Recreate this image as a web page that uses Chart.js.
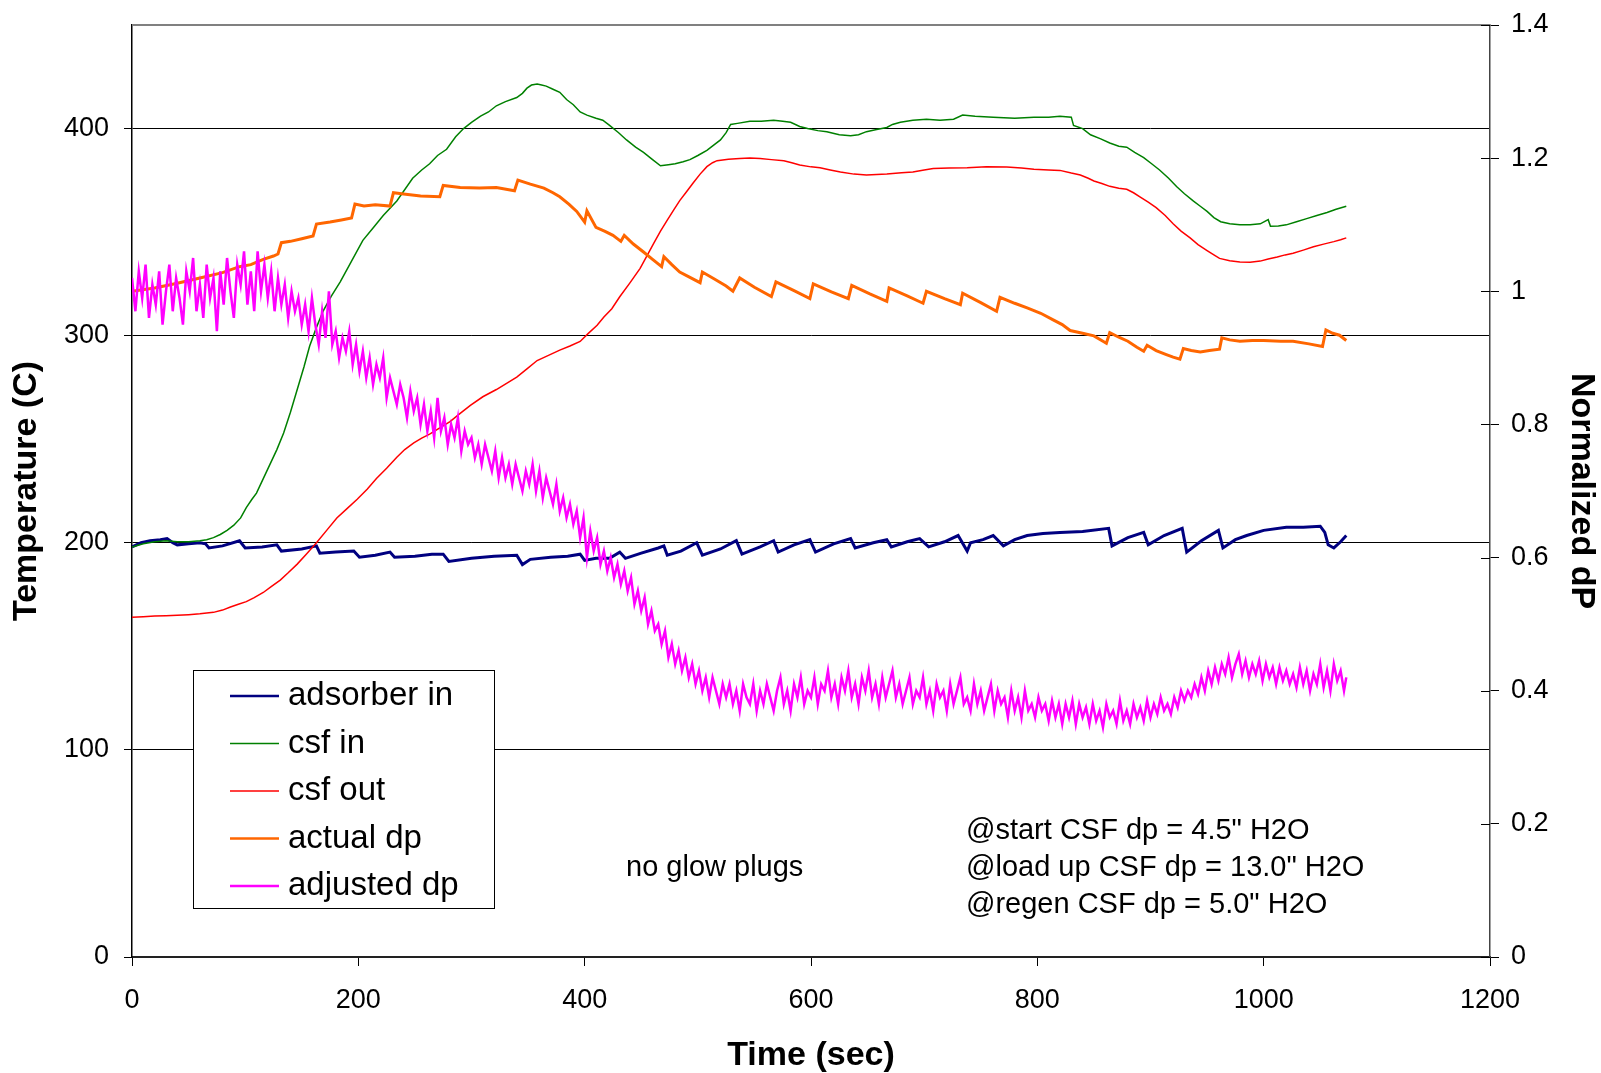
<!DOCTYPE html>
<html>
<head>
<meta charset="utf-8">
<script src="https://cdn.jsdelivr.net/npm/chart.js@4.4.1/dist/chart.umd.min.js"></script>
<style>
  html, body { margin: 0; padding: 0; background: #fff; }
  #quadro { width: 1601px; height: 1073px; }
</style>
</head>
<body>
<div id="quadro"><canvas id="grafico" width="1601" height="1073"></canvas></div>
<script>
// [time (sec), temperature (C)]
const adsorberIn = [[0,198],[8,200],[16,201],[25,201.5],[31,202],[36,200],[40,199],[50,199.5],[60,200],[65,199.5],[68,197.5],[80,198.5],[95,201],[100,197.5],[115,198],[128,199],[132,196],[150,197],[163,198.5],[166,195],[180,195.5],[196,196],[201,193],[215,194],[228,195.5],[232,193],[250,193.5],[265,194.5],[275,194.5],[280,191],[300,192.5],[320,193.5],[340,194],[345,189.5],[352,192],[370,193],[385,193.5],[396,194.5],[400,191.5],[410,192.5],[422,192.5],[431,195.5],[436,192.5],[450,195],[465,197.5],[470,198.5],[473,194],[485,196],[499,200],[504,194],[520,197],[534,201],[539,194.5],[555,198],[567,201],[571,195.5],[585,199],[599,201.5],[604,195.5],[620,199.5],[635,202],[639,197.5],[655,200],[667,201.5],[671,198],[685,200.5],[696,202],[704,198],[718,200.5],[730,203.5],[738,196],[741,200],[752,201.5],[761,203.5],[770,198.5],[780,201.5],[791,203.5],[805,204.5],[820,205],[840,205.5],[863,207],[866,198.5],[880,202.5],[894,205],[898,199],[912,203.5],[928,207],[932,195.5],[945,201],[960,206],[964,197.5],[975,201.5],[985,203.5],[1000,206],[1020,207.5],[1035,207.5],[1050,208],[1054,205],[1057,199],[1062,197.5],[1068,200.5],[1073,203.5]];

const csfIn = [[0,198],[10,199.5],[20,200.5],[30,201],[40,200.5],[50,200.5],[60,201],[66,201.5],[72,202.5],[78,204],[84,206],[90,208.5],[96,212],[101,217],[106,221],[110,224],[116,231],[122,238],[128,245],[134,253],[140,263],[146,274],[152,285],[157,295],[163,304],[169,312],[176,319],[184,326],[194,336],[204,346],[213,352],[222,358],[234,365],[248,376],[256,380],[263,383],[270,387],[278,390],[286,396],[293,400],[300,403],[308,406],[315,408],[322,411],[330,413],[340,415],[345,417],[349,419.5],[353,421],[358,421.5],[362,421],[366,420.5],[372,419],[378,417.5],[384,414],[390,411.5],[396,408],[402,406.5],[410,405],[416,404],[422,401.5],[430,398],[437,394.5],[445,391],[452,388.5],[460,385],[467,382],[474,382.5],[480,383],[487,384],[493,385],[500,387],[508,389.5],[514,392],[520,394.5],[525,398],[529,402],[535,402.5],[546,403.5],[556,403.5],[567,404],[575,403.5],[582,403],[590,401],[597,400],[606,399],[614,398.5],[625,397],[635,396.5],[642,397],[649,398.5],[658,399.5],[667,400.5],[672,402],[679,403],[690,404],[702,404.5],[714,404],[726,404.5],[734,406.5],[745,406],[761,405.5],[780,405],[797,405.5],[810,405.5],[820,406],[830,405.5],[832,401.5],[840,400],[847,397],[856,395],[864,393],[872,391.5],[879,391],[886,388.5],[894,386],[901,383],[908,380],[916,376],[923,372],[930,368.5],[938,365],[944,362.5],[950,360],[956,357],[962,355],[970,354],[979,353.5],[988,353.5],[997,354],[1004,356],[1006,352.8],[1013,353],[1020,353.5],[1029,355],[1038,356.5],[1047,358],[1056,359.5],[1064,361],[1073,362.5]];

const csfOut = [[0,164],[10,164.3],[20,164.6],[30,164.8],[40,165],[50,165.3],[60,165.7],[72,166.4],[80,167.5],[87,169],[94,170.3],[101,171.6],[108,173.5],[116,176],[123,178.8],[131,182],[138,185.5],[146,189.7],[154,194.5],[163,200],[172,206],[181,212],[190,216.5],[199,221],[208,226],[216,231],[225,236],[234,241.3],[241,245],[249,248.2],[256,250.5],[263,252.5],[272,255.5],[281,258.5],[290,262.5],[299,266.3],[310,270.5],[322,274],[331,277],[340,280],[349,284],[358,288],[368,290.5],[378,293],[387,295],[396,297.2],[403,301],[411,305],[417,309],[424,313],[431,318.8],[440,325.5],[449,332.5],[455,338.5],[461,344.6],[467,350.5],[473,355.8],[479,361],[484,365.2],[490,369.5],[496,373.8],[502,378],[508,381.6],[513,383.5],[517,384.5],[527,385.2],[537,385.5],[546,385.8],[555,385.5],[565,385],[576,384.5],[583,383.5],[590,382.4],[600,381.5],[608,381.1],[617,380],[626,379],[638,378],[649,377.6],[658,377.8],[667,378.1],[680,378.7],[690,379],[700,380],[708,380.7],[722,381],[738,381.1],[755,381.5],[773,381.4],[786,381],[797,380.4],[810,380],[820,379.8],[830,378.5],[838,377.6],[845,376],[850,374.7],[857,373.5],[864,372.1],[872,371.2],[879,370.7],[885,369],[891,366.9],[898,364.5],[905,361.8],[913,358],[920,354],[927,350.5],[935,347.2],[942,344],[950,341.1],[956,339],[961,337.3],[970,336.2],[979,335.6],[988,335.5],[997,336],[1004,337],[1012,338],[1019,339],[1026,339.8],[1035,341.3],[1044,342.9],[1053,344.2],[1062,345.4],[1068,346.3],[1073,347.2]];

// [time (sec), normalized dP]
const actualDp = [[0,1.0],[20,1.005],[40,1.012],[60,1.02],[80,1.028],[95,1.037],[105,1.04],[116,1.048],[125,1.053],[129,1.056],[132,1.073],[140,1.075],[150,1.079],[160,1.083],[163,1.101],[175,1.104],[185,1.107],[194,1.11],[197,1.131],[205,1.128],[215,1.13],[228,1.128],[231,1.148],[240,1.146],[255,1.143],[272,1.142],[275,1.159],[290,1.156],[307,1.155],[322,1.156],[338,1.151],[341,1.167],[352,1.161],[364,1.155],[372,1.148],[378,1.142],[386,1.131],[393,1.12],[400,1.104],[402,1.121],[410,1.096],[418,1.09],[425,1.084],[432,1.075],[435,1.084],[443,1.071],[452,1.059],[460,1.048],[468,1.037],[470,1.052],[477,1.04],[484,1.029],[493,1.021],[502,1.013],[504,1.029],[515,1.018],[525,1.008],[531,1.0],[537,1.02],[550,1.006],[565,0.992],[569,1.014],[585,1.001],[599,0.989],[602,1.011],[618,0.999],[633,0.989],[636,1.009],[652,0.996],[667,0.985],[669,1.005],[685,0.993],[699,0.982],[702,1.0],[718,0.989],[732,0.98],[734,0.997],[750,0.983],[764,0.97],[767,0.991],[780,0.982],[791,0.975],[803,0.967],[814,0.957],[822,0.95],[829,0.941],[840,0.937],[850,0.933],[858,0.925],[861,0.922],[864,0.938],[872,0.931],[880,0.925],[888,0.916],[894,0.91],[897,0.919],[905,0.911],[914,0.905],[920,0.901],[926,0.898],[929,0.914],[936,0.911],[944,0.909],[952,0.911],[961,0.913],[963,0.93],[970,0.927],[979,0.925],[990,0.926],[1000,0.926],[1015,0.925],[1026,0.925],[1040,0.921],[1052,0.917],[1055,0.942],[1061,0.937],[1067,0.934],[1073,0.926]];

const adjustedDp = [[0,1.02],[3,0.97],[6,1.03],[9,0.99],[12,1.04],[15,0.96],[18,1.01],[21,0.98],[24,1.03],[27,0.95],[30,1.0],[33,1.04],[36,0.97],[39,1.02],[42,0.99],[45,0.95],[48,1.03],[51,1.0],[54,1.05],[57,0.97],[60,1.01],[63,0.96],[66,1.04],[69,0.99],[72,1.02],[75,0.94],[78,1.03],[81,0.98],[84,1.05],[87,1.0],[90,0.96],[93,1.04],[96,1.01],[99,1.06],[102,0.98],[105,1.03],[108,0.97],[111,1.06],[114,1.0],[117,1.04],[120,0.99],[123,1.03],[126,0.97],[129,1.02],[132,0.98],[135,1.01],[138,0.96],[141,1.0],[144,0.97],[147,0.99],[150,0.95],[153,0.98],[156,0.94],[159,0.99],[162,0.95],[165,0.92],[168,0.97],[171,0.93],[174,1.0],[177,0.92],[180,0.94],[183,0.9],[186,0.93],[189,0.91],[192,0.94],[195,0.89],[198,0.92],[201,0.88],[204,0.91],[207,0.87],[210,0.9],[213,0.86],[216,0.89],[219,0.87],[222,0.9],[225,0.84],[228,0.87],[231,0.85],[234,0.83],[237,0.86],[240,0.84],[243,0.81],[246,0.85],[249,0.82],[252,0.84],[255,0.8],[258,0.83],[261,0.79],[264,0.82],[267,0.78],[270,0.84],[273,0.79],[276,0.81],[279,0.77],[282,0.8],[285,0.78],[288,0.81],[291,0.76],[294,0.79],[297,0.77],[300,0.78],[303,0.75],[306,0.77],[309,0.74],[312,0.77],[315,0.75],[318,0.73],[321,0.76],[324,0.72],[327,0.75],[330,0.72],[333,0.74],[336,0.71],[339,0.74],[342,0.72],[345,0.7],[348,0.73],[351,0.71],[354,0.74],[357,0.7],[360,0.73],[363,0.69],[366,0.72],[369,0.7],[372,0.68],[375,0.71],[378,0.67],[381,0.69],[384,0.66],[387,0.68],[390,0.65],[393,0.67],[396,0.63],[399,0.66],[402,0.6],[405,0.64],[408,0.61],[411,0.63],[414,0.59],[417,0.61],[420,0.58],[423,0.6],[426,0.57],[429,0.59],[432,0.56],[435,0.58],[438,0.55],[441,0.57],[444,0.53],[447,0.55],[450,0.52],[453,0.54],[456,0.5],[459,0.52],[462,0.49],[465,0.5],[468,0.47],[471,0.49],[474,0.45],[477,0.47],[480,0.44],[483,0.46],[486,0.43],[489,0.45],[492,0.42],[495,0.44],[498,0.41],[501,0.43],[504,0.4],[507,0.42],[510,0.39],[513,0.42],[516,0.4],[519,0.38],[522,0.41],[525,0.39],[528,0.41],[531,0.38],[534,0.4],[537,0.37],[540,0.41],[543,0.39],[546,0.38],[549,0.41],[552,0.37],[555,0.4],[558,0.38],[561,0.41],[564,0.39],[567,0.37],[570,0.4],[573,0.42],[576,0.38],[579,0.4],[582,0.37],[585,0.41],[588,0.39],[591,0.42],[594,0.38],[597,0.4],[600,0.39],[603,0.42],[606,0.38],[609,0.41],[612,0.4],[615,0.43],[618,0.39],[621,0.41],[624,0.38],[627,0.42],[630,0.4],[633,0.43],[636,0.39],[639,0.41],[642,0.38],[645,0.42],[648,0.4],[651,0.43],[654,0.39],[657,0.41],[660,0.38],[663,0.42],[666,0.39],[669,0.41],[672,0.43],[675,0.39],[678,0.41],[681,0.38],[684,0.4],[687,0.42],[690,0.38],[693,0.4],[696,0.39],[699,0.42],[702,0.38],[705,0.4],[708,0.37],[711,0.41],[714,0.39],[717,0.4],[720,0.37],[723,0.41],[726,0.38],[729,0.4],[732,0.42],[735,0.38],[738,0.39],[741,0.37],[744,0.41],[747,0.38],[750,0.4],[753,0.37],[756,0.39],[759,0.41],[762,0.37],[765,0.4],[768,0.38],[771,0.39],[774,0.36],[777,0.4],[780,0.37],[783,0.39],[786,0.36],[789,0.4],[792,0.37],[795,0.38],[798,0.36],[801,0.39],[804,0.37],[807,0.38],[810,0.355],[813,0.385],[816,0.36],[819,0.38],[822,0.35],[825,0.38],[828,0.36],[831,0.385],[834,0.35],[837,0.38],[840,0.36],[843,0.375],[846,0.35],[849,0.38],[852,0.355],[855,0.37],[858,0.345],[861,0.38],[864,0.36],[867,0.37],[870,0.35],[873,0.385],[876,0.355],[879,0.37],[882,0.35],[885,0.38],[888,0.36],[891,0.375],[894,0.355],[897,0.385],[900,0.36],[903,0.38],[906,0.365],[909,0.39],[912,0.37],[915,0.38],[918,0.365],[921,0.39],[924,0.375],[927,0.4],[930,0.385],[933,0.4],[936,0.39],[939,0.41],[942,0.395],[945,0.42],[948,0.4],[951,0.43],[954,0.41],[957,0.435],[960,0.415],[963,0.44],[966,0.425],[969,0.45],[972,0.42],[975,0.44],[978,0.455],[981,0.425],[984,0.445],[987,0.42],[990,0.44],[993,0.425],[996,0.445],[999,0.415],[1002,0.44],[1005,0.42],[1008,0.435],[1011,0.41],[1014,0.435],[1017,0.415],[1020,0.43],[1023,0.41],[1026,0.425],[1029,0.405],[1032,0.435],[1035,0.41],[1038,0.43],[1041,0.4],[1044,0.425],[1047,0.41],[1050,0.44],[1053,0.405],[1056,0.43],[1059,0.4],[1062,0.44],[1065,0.415],[1068,0.43],[1071,0.4],[1073,0.42]];

const seriesNames = ['adsorber in', 'csf in', 'csf out', 'actual dp', 'adjusted dp'];
const timeTicks = [0, 200, 400, 600, 800, 1000, 1200];
const tempTicks = [0, 100, 200, 300, 400];
const dpTicks = [0, 0.2, 0.4, 0.6, 0.8, 1, 1.2, 1.4];
const noteCenter = 'no glow plugs';
const noteLines = ['@start CSF dp = 4.5" H2O', '@load up CSF dp = 13.0" H2O', '@regen CSF dp = 5.0" H2O'];

const cores = ['#000080', '#008000', '#FF0000', '#FF6600', '#FF00FF'];
const espessuras = [3, 1.5, 1.5, 3, 2.5];
const fonte = "'Liberation Sans', Arial, sans-serif";

Chart.defaults.font.family = fonte;
Chart.defaults.color = '#000';

function pontos(lista) {
    return lista.map(p => ({ x: p[0], y: p[1] }));
}

function fixarTicks(valores) {
    return function (scale) {
        scale.ticks = valores.map(v => ({ value: v }));
    };
}

// fixed box sizes, no extra label padding around the plot
function caixa(largura, altura) {
    return function (s) {
        if (largura) s.width = largura;
        if (altura) s.height = altura;
        s.paddingTop = 0;
        s.paddingBottom = 0;
    };
}

const extras = {
    id: 'extras',
    afterDraw(chart) {
        const ctx = chart.ctx;
        const area = chart.chartArea;
        const yP = chart.scales.yP;
        ctx.save();

        // top border of the plot area
        ctx.strokeStyle = '#808080';
        ctx.lineWidth = 2;
        ctx.beginPath();
        ctx.moveTo(area.left, area.top);
        ctx.lineTo(area.right, area.top);
        ctx.stroke();

        // secondary axis ticks cross into the plot
        ctx.strokeStyle = '#000';
        ctx.lineWidth = 1;
        dpTicks.forEach(v => {
            const py = Math.round(yP.getPixelForValue(v)) + 0.5;
            ctx.beginPath();
            ctx.moveTo(area.right - 9, py);
            ctx.lineTo(area.right, py);
            ctx.stroke();
        });

        // legend box
        const bx = area.left + 61, by = area.top + 645, bw = 301, bh = 238;
        ctx.fillStyle = '#fff';
        ctx.fillRect(bx, by, bw, bh);
        ctx.strokeStyle = '#000';
        ctx.lineWidth = 1;
        ctx.strokeRect(bx + 0.5, by + 0.5, bw, bh);
        ctx.font = '33px ' + fonte;
        ctx.textBaseline = 'middle';
        ctx.textAlign = 'left';
        chart.data.datasets.forEach((ds, i) => {
            const ly = by + 26 + i * 47.5;
            ctx.strokeStyle = ds.borderColor;
            ctx.lineWidth = i === 1 || i === 2 ? 1.5 : 2.5;
            ctx.beginPath();
            ctx.moveTo(bx + 37, ly);
            ctx.lineTo(bx + 86, ly);
            ctx.stroke();
            ctx.fillStyle = '#000';
            ctx.fillText(ds.label, bx + 95, ly);
        });

        // notes
        ctx.font = '29px ' + fonte;
        ctx.fillStyle = '#000';
        ctx.fillText(noteCenter, area.left + 494, area.top + 843);
        noteLines.forEach((t, i) => {
            ctx.fillText(t, area.left + 834, area.top + 806 + i * 37);
        });
        ctx.restore();
    }
};

const series = [adsorberIn, csfIn, csfOut, actualDp, adjustedDp];
const eixos = ['yT', 'yT', 'yT', 'yP', 'yP'];

const ctx = document.getElementById('grafico').getContext('2d');
const grafico = new Chart(ctx, {
    type: 'line',
    data: {
        datasets: series.map((s, i) => ({
            label: seriesNames[i],
            data: pontos(s),
            yAxisID: eixos[i],
            borderColor: cores[i],
            backgroundColor: cores[i],
            borderWidth: espessuras[i],
            pointRadius: 0,
            tension: 0,
            fill: false,
            order: 5 - i
        }))
    },
    options: {
        responsive: false,
        animation: false,
        devicePixelRatio: 1,
        layout: { padding: { top: 25, left: 0, right: 0, bottom: 0 } },
        plugins: {
            legend: { display: false },
            tooltip: { enabled: false }
        },
        scales: {
            x: {
                type: 'linear',
                min: 0,
                max: 1200,
                afterBuildTicks: fixarTicks(timeTicks),
                afterFit: caixa(0, 116),
                grid: { drawOnChartArea: false, tickLength: 9, color: '#000', lineWidth: 1 },
                border: { color: '#222', width: 2 },
                ticks: { font: { size: 27 }, color: '#000', padding: 18, maxRotation: 0, callback: v => String(v) },
                title: {
                    display: true, text: 'Time (sec)', color: '#000',
                    font: { size: 34, weight: 'bold', lineHeight: 1 },
                    padding: { top: 0, bottom: 0 }
                }
            },
            yT: {
                type: 'linear',
                position: 'left',
                min: 0,
                max: 450,
                afterBuildTicks: fixarTicks(tempTicks),
                afterFit: caixa(132, 0),
                grid: { color: '#000', lineWidth: 1, tickLength: 8 },
                border: { color: '#000', width: 1.5 },
                ticks: { font: { size: 27 }, color: '#000', padding: 15, callback: v => String(v) },
                title: {
                    display: true, text: 'Temperature (C)', color: '#000',
                    font: { size: 34, weight: 'bold', lineHeight: 1 },
                    padding: { top: 10, bottom: 0 }
                }
            },
            yP: {
                type: 'linear',
                position: 'right',
                min: 0,
                max: 1.4,
                afterBuildTicks: fixarTicks(dpTicks),
                afterFit: caixa(111, 0),
                grid: { drawOnChartArea: false, color: '#000', lineWidth: 1, tickLength: 9 },
                border: { color: '#444', width: 1.5 },
                ticks: {
                    font: { size: 27 }, color: '#000', padding: 12,
                    callback: v => String(Math.round(v * 10) / 10)
                },
                title: {
                    display: true, text: 'Normalized dP', color: '#000',
                    font: { size: 34, weight: 'bold', lineHeight: 1 },
                    padding: { top: 3, bottom: 0 }
                }
            }
        }
    },
    plugins: [extras]
});
</script>
</body>
</html>
